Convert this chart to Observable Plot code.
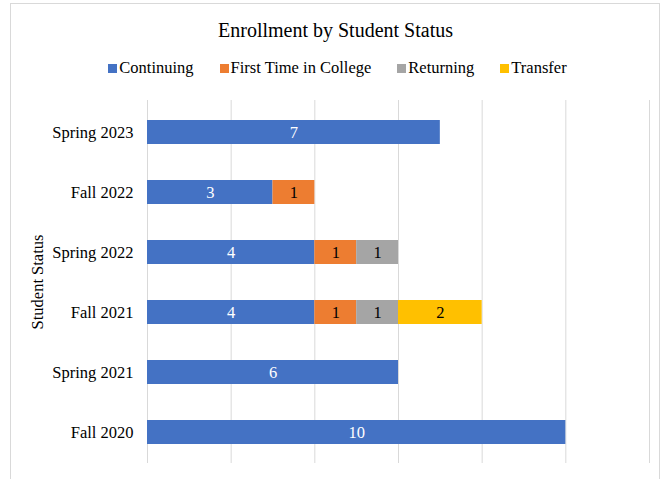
<!DOCTYPE html>
<html>
<head>
<meta charset="utf-8">
<script src="https://cdn.jsdelivr.net/npm/d3@7"></script>
<script src="https://cdn.jsdelivr.net/npm/@observablehq/plot@0.6"></script>
<style>
  body { margin: 0; background: #fff; font-family: "Liberation Serif", "Times New Roman", serif; }
  #wrap { position: relative; width: 665px; height: 479px; overflow: hidden; }
  #frame { position: absolute; left: 10px; top: 3px; width: 650px; height: 500px; border: 1px solid #d9d9d9; box-sizing: border-box; }
  #title { position: absolute; left: 10px; width: 651px; top: 17px; line-height: 26px; text-align: center; font-size: 20px; color: #000; font-family: "Liberation Serif", serif; }
  #legend { position: absolute; left: 12px; width: 651px; top: 58px; line-height: 20px; display: flex; justify-content: center; gap: 26px; font-size: 16.5px; color: #000; font-family: "Liberation Serif", serif; }
  #legend .item { display: flex; align-items: center; }
  #legend .sw { width: 9px; height: 9px; margin-right: 2px; display: inline-block; }
  #chart { position: absolute; left: 0; top: 85px; }
</style>
</head>
<body>
<div id="wrap">
  <div id="frame"></div>
  <div id="title">Enrollment by Student Status</div>
  <div id="legend"></div>
  <div id="chart"></div>
</div>
<script>
const terms = ["Spring 2023", "Fall 2022", "Spring 2022", "Fall 2021", "Spring 2021", "Fall 2020"];
const statuses = ["Continuing", "First Time in College", "Returning", "Transfer"];
const continuing = [7, 3, 4, 4, 6, 10];
const firstTime  = [0, 1, 1, 1, 0, 0];
const returning  = [0, 0, 1, 1, 0, 0];
const transfer   = [0, 0, 0, 2, 0, 0];
const colors = ["#4472c4", "#ed7d31", "#a5a5a5", "#ffc000"];
const gridTicks = [0, 2, 4, 6, 8, 10, 12];

const series = [continuing, firstTime, returning, transfer];
const rows = [];
terms.forEach((t, i) => {
  statuses.forEach((s, j) => {
    const v = series[j][i];
    if (v > 0) rows.push({term: t, status: s, value: v});
  });
});

// legend
const legend = document.getElementById("legend");
statuses.forEach((s, j) => {
  const it = document.createElement("span");
  it.className = "item";
  const sw = document.createElement("span");
  sw.className = "sw";
  sw.style.background = colors[j];
  it.appendChild(sw);
  it.appendChild(document.createTextNode(s));
  legend.appendChild(it);
});

const stackOpts = {x: "value", y: "term", z: "status", order: statuses};

const chart = Plot.plot({
  width: 665,
  height: 394,
  marginLeft: 147,
  marginRight: 16,
  marginTop: 15,
  marginBottom: 16,
  style: {fontFamily: "Liberation Serif, Times New Roman, serif", fontSize: "16.5px", background: "transparent"},
  x: {domain: [0, 12], axis: null},
  y: {domain: terms, padding: 0},
  color: {domain: statuses, range: colors},
  marks: [
    Plot.ruleX(gridTicks, {stroke: "#d9d9d9", strokeWidth: 1}),
    Plot.barX(rows, Plot.stackX({...stackOpts, fill: "status", insetTop: 18, insetBottom: 18})),
    Plot.text(rows, Plot.stackX({...stackOpts, text: d => d.status === "Continuing" ? String(d.value) : null, fill: "white", fontSize: 16.5})),
    Plot.text(rows, Plot.stackX({...stackOpts, text: d => d.status !== "Continuing" ? String(d.value) : null, fill: "black", fontSize: 16.5})),
    Plot.axisY({tickSize: 0, tickPadding: 14, fontSize: 16.5, color: "#000", label: "Student Status", labelAnchor: "center", labelOffset: 116, labelArrow: "none"})
  ]
});
document.getElementById("chart").appendChild(chart);
</script>
</body>
</html>
